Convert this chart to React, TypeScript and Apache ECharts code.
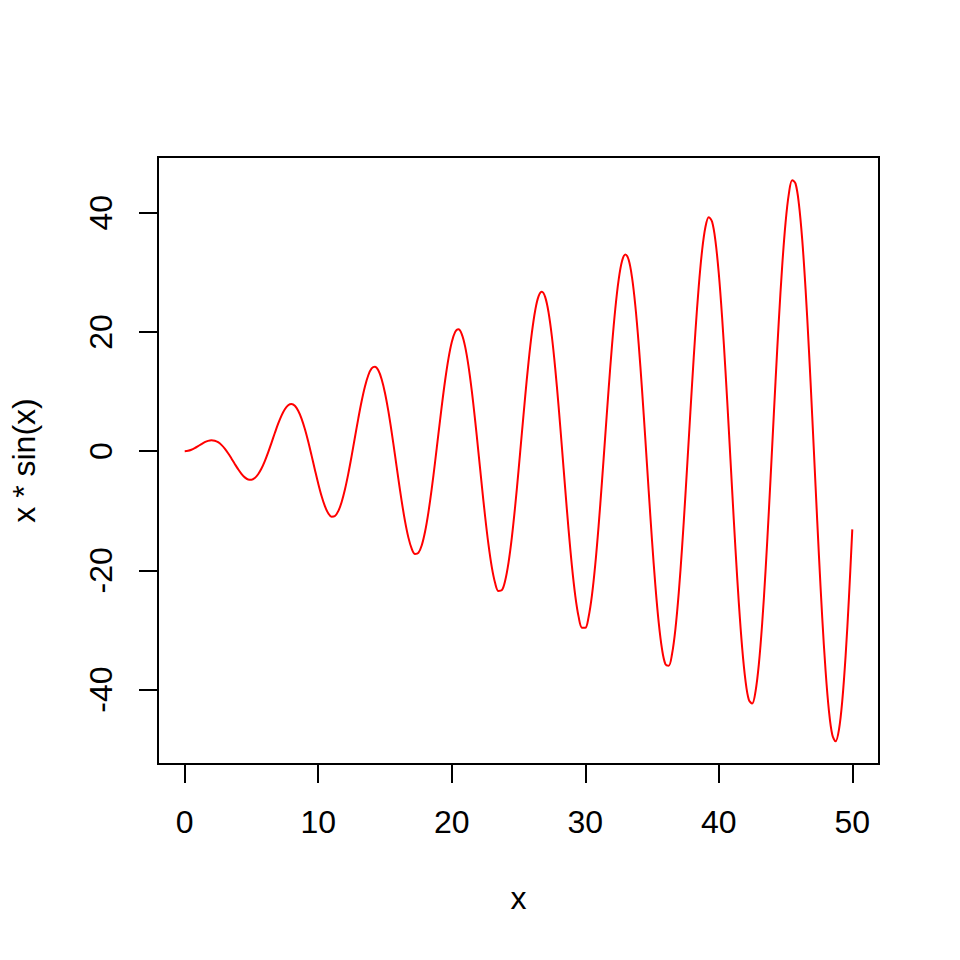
import React, { useEffect, useRef } from "react";
import * as echarts from "echarts";

const xValues = [
  0, 0.25, 0.5, 0.75, 1, 1.25, 1.5, 1.75, 2, 2.25, 2.5, 2.75, 3, 3.25, 3.5, 3.75,
  4, 4.25, 4.5, 4.75, 5, 5.25, 5.5, 5.75, 6, 6.25, 6.5, 6.75, 7, 7.25, 7.5, 7.75,
  8, 8.25, 8.5, 8.75, 9, 9.25, 9.5, 9.75, 10, 10.25, 10.5, 10.75, 11, 11.25, 11.5, 11.75,
  12, 12.25, 12.5, 12.75, 13, 13.25, 13.5, 13.75, 14, 14.25, 14.5, 14.75, 15, 15.25, 15.5, 15.75,
  16, 16.25, 16.5, 16.75, 17, 17.25, 17.5, 17.75, 18, 18.25, 18.5, 18.75, 19, 19.25, 19.5, 19.75,
  20, 20.25, 20.5, 20.75, 21, 21.25, 21.5, 21.75, 22, 22.25, 22.5, 22.75, 23, 23.25, 23.5, 23.75,
  24, 24.25, 24.5, 24.75, 25, 25.25, 25.5, 25.75, 26, 26.25, 26.5, 26.75, 27, 27.25, 27.5, 27.75,
  28, 28.25, 28.5, 28.75, 29, 29.25, 29.5, 29.75, 30, 30.25, 30.5, 30.75, 31, 31.25, 31.5, 31.75,
  32, 32.25, 32.5, 32.75, 33, 33.25, 33.5, 33.75, 34, 34.25, 34.5, 34.75, 35, 35.25, 35.5, 35.75,
  36, 36.25, 36.5, 36.75, 37, 37.25, 37.5, 37.75, 38, 38.25, 38.5, 38.75, 39, 39.25, 39.5, 39.75,
  40, 40.25, 40.5, 40.75, 41, 41.25, 41.5, 41.75, 42, 42.25, 42.5, 42.75, 43, 43.25, 43.5, 43.75,
  44, 44.25, 44.5, 44.75, 45, 45.25, 45.5, 45.75, 46, 46.25, 46.5, 46.75, 47, 47.25, 47.5, 47.75,
  48, 48.25, 48.5, 48.75, 49, 49.25, 49.5, 49.75, 50,
];

const yValues = [
  0, 0.062, 0.24, 0.511, 0.841, 1.186, 1.496, 1.722, 1.819, 1.751, 1.496, 1.05, 0.423, -0.352, -1.228, -2.143,
  -3.027, -3.804, -4.399, -4.747, -4.795, -4.509, -3.88, -2.923, -1.676, -0.207, 1.398, 3.038, 4.599, 5.967, 7.035, 7.708,
  7.915, 7.612, 6.787, 5.466, 3.709, 1.609, -0.714, -3.115, -5.44, -7.531, -9.237, -10.428, -11.0, -10.888, -10.068, -8.562,
  -6.439, -3.811, -0.829, 2.328, 5.463, 8.369, 10.851, 12.732, 13.868, 14.159, 13.556, 12.066, 9.754, 6.743, 3.201, -0.662,
  -4.606, -8.383, -11.745, -14.463, -16.344, -17.243, -17.073, -15.815, -13.518, -10.298, -6.336, -1.864, 2.848, 7.504, 11.807, 15.476,
  18.259, 19.957, 20.435, 19.633, 17.571, 14.347, 10.141, 5.195, -0.195, -5.695, -10.962, -15.654, -19.463, -22.128, -23.455, -23.331,
  -21.734, -18.733, -14.489, -9.243, -3.31, 2.953, 9.155, 14.903, 19.828, 23.596, 25.953, 26.721, 25.823, 23.281, 19.228, 13.892,
  7.585, 0.687, -6.378, -13.166, -19.244, -24.221, -27.76, -29.615, -29.64, -27.809, -24.199, -19.002, -12.524, -5.162, 2.646, 10.411,
  17.645, 23.886, 28.724, 31.836, 32.997, 32.102, 29.179, 24.385, 17.989, 10.368, 1.984, -6.647, -14.987, -22.505, -28.72, -33.222,
  -35.705, -35.987, -34.018, -29.88, -23.81, -16.173, -7.418, 1.92, 11.263, 20.022, 27.643, 33.63, 37.588, 39.244, 38.461, 35.258,
  29.805, 22.416, 13.531, 3.69, -6.503, -16.415, -25.419, -32.943, -38.493, -41.701, -42.334, -40.324, -35.763, -28.916, -20.175, -10.072,
  0.779, 11.706, 22.023, 31.079, 38.291, 43.188, 45.436, 44.867, 41.483, 35.467, 27.165, 17.075, 5.808, -5.943, -17.447, -27.981,
  -36.876, -43.558, -47.584, -48.676, -46.735, -41.852, -34.302, -24.526, -13.119,
];

const xTicks = [0, 10, 20, 30, 40, 50];
const yTicks = [-40, -20, 0, 20, 40];

const xTitle = "x";
const yTitle = "x * sin(x)";

export default function App() {
  const ref = useRef<HTMLDivElement>(null);
  useEffect(() => {
    if (!ref.current) return;
    const chart = echarts.init(ref.current, undefined, { renderer: "svg" });
    const font = "Liberation Sans";
    const data = xValues.map((x, i) => [x, yValues[i]]);
    chart.setOption({
      animation: false,
      backgroundColor: "#ffffff",
      grid: {
        left: 157,
        top: 157,
        right: 81,
        bottom: 196,
        show: true,
        borderColor: "#000000",
        borderWidth: 2,
        backgroundColor: "transparent",
      },
      xAxis: {
        type: "value",
        min: -2,
        max: 52,
        name: xTitle,
        nameLocation: "middle",
        nameGap: 118,
        nameTextStyle: { fontSize: 32, fontFamily: font, color: "#000" },
        axisLine: { show: false, onZero: false },
        axisTick: {
          show: true,
          customValues: xTicks,
          length: 19,
          lineStyle: { color: "#000", width: 2 },
        },
        axisLabel: {
          customValues: xTicks,
          fontSize: 32,
          fontFamily: font,
          color: "#000",
          margin: 42,
        },
        splitLine: { show: false },
      },
      yAxis: {
        type: "value",
        min: -52.476,
        max: 49.335,
        name: yTitle,
        nameLocation: "middle",
        nameGap: 118,
        nameRotate: 90,
        nameTextStyle: { fontSize: 32, fontFamily: font, color: "#000" },
        axisLine: { show: false, onZero: false },
        axisTick: {
          show: true,
          customValues: yTicks,
          length: 19,
          lineStyle: { color: "#000", width: 2 },
        },
        axisLabel: {
          customValues: yTicks,
          rotate: 90,
          fontSize: 32,
          fontFamily: font,
          color: "#000",
          margin: 41,
        },
        splitLine: { show: false },
      },
      series: [
        {
          type: "line",
          data,
          showSymbol: false,
          smooth: 0.35,
          clip: true,
          lineStyle: { color: "#ff0000", width: 2, join: "round" },
        },
      ],
    });
    return () => chart.dispose();
  }, []);
  return (
    <div
      ref={ref}
      style={{ position: "fixed", left: 0, top: 0, width: 960, height: 960, background: "#fff" }}
    />
  );
}
